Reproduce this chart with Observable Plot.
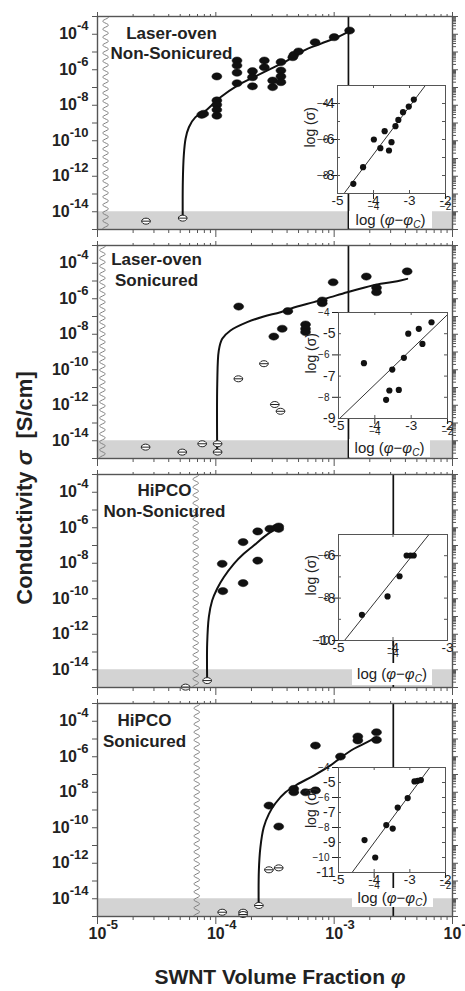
<!DOCTYPE html>
<html><head><meta charset="utf-8">
<script src="https://cdn.jsdelivr.net/npm/d3@7"></script>
<script src="https://cdn.jsdelivr.net/npm/@observablehq/plot@0.6"></script>
<style>
html,body{margin:0;padding:0;background:#fff;}
#root{position:relative;width:465px;height:991px;overflow:hidden;font-family:"Liberation Sans",Arial,sans-serif;color:#222;}
.abs{position:absolute;}
.ylab{position:absolute;left:25px;top:488px;transform:translate(-50%,-50%) rotate(-90deg);white-space:nowrap;font-weight:bold;font-size:22px;}
.xlab{position:absolute;left:280px;top:966px;height:22px;line-height:22px;transform:translateX(-50%);white-space:nowrap;font-weight:bold;font-size:21px;}
.ilab{position:absolute;background:#fff;text-align:center;font-size:15px;white-space:nowrap;}
.ilab sub{font-size:10px;font-style:italic;vertical-align:-3px;}
</style></head><body>
<div id="root"></div>
<script>
// ---------- axis / tick data ----------
const xDomain = [1e-5, 1e-2];
const yDomain = [1e-15, 1e-3];
const xTickExps = [-5, -4, -3, -2];
const yTickExps = [-4, -6, -8, -10, -12, -14];
const noiseFloor = [1e-15, 1e-14];
const panelNames = ["Laser-oven\nNon-Sonicured", "Laser-oven\nSonicured", "HiPCO\nNon-Sonicured", "HiPCO\nSonicured"];
const breakPhi = [1.17e-5, 1.1e-5, 6.76e-5, 6.9e-5];
const cutoffPhi = [1.32e-3, 1.32e-3, 3.16e-3, 3.16e-3];

// ---------- Panel 1: Laser-oven, non-sonicured ----------
const p1Filled = [[1.02e-4,4.2e-7],[7.6e-5,2.9e-9],[7.9e-5,3.3e-9],[1.02e-4,1.86e-8],[1.02e-4,1.07e-8],[1.02e-4,5.5e-9],[1.02e-4,2.6e-9],
  [1.51e-4,3.3e-6],[1.51e-4,1.74e-6],[1.51e-4,6.8e-7],[1.51e-4,1.74e-7],[2.04e-4,8.3e-7],[2.04e-4,3.8e-7],[2.04e-4,1.17e-7],
  [2.57e-4,3.3e-6],[2.57e-4,1.38e-6],[3.02e-4,2.45e-7],[3.02e-4,1.05e-7],[3.55e-4,2.69e-6],[3.55e-4,9.1e-7],[3.55e-4,4.2e-7],[3.55e-4,2.0e-7],
  [4.47e-4,5.1e-6],[4.57e-4,6.9e-6],[5.0e-4,1.07e-5],[6.9e-4,3.55e-5],[1.0e-3,6.8e-5],[1.35e-3,1.62e-4]];
const p1Open = [[2.57e-5,2.95e-15],[5.25e-5,4.37e-15]];
const p1Fit = [[5.25e-5,4.9e-15],[5.26e-5,4.57e-13],[5.36e-5,1.48e-11],[5.55e-5,1.29e-10],[5.92e-5,5.75e-10],[6.73e-5,2.14e-9],[7.91e-5,4.07e-9],
  [1.094e-4,2.82e-8],[1.52e-4,1.29e-7],[2.09e-4,3.8e-7],[2.9e-4,1.12e-6],[4.01e-4,3.31e-6],[5.53e-4,1.2e-5],[7.67e-4,2.88e-5],[1.06e-3,6.76e-5],[1.37e-3,1.62e-4]];
const p1Inset = [[-4.56,-8.46],[-4.29,-7.54],[-3.99,-6.0],[-3.81,-6.48],[-3.69,-5.54],[-3.50,-6.15],[-3.57,-6.61],[-3.39,-5.26],[-3.31,-4.91],[-3.18,-4.48],[-3.02,-4.17],[-2.88,-3.78]];
const p1InsetFit = [[-4.8,-8.95],[-2.56,-3.0]];

// ---------- Panel 2: Laser-oven, sonicured ----------
const p2Filled = [[1.56e-4,3.63e-7],[3.09e-4,7.41e-9],[3.64e-4,2.04e-8],[4.06e-4,2.0e-7],[5.73e-4,3.55e-8],[5.73e-4,2.04e-8],[5.73e-4,1.32e-8],
  [7.93e-4,7.94e-7],[7.93e-4,5.62e-7],[9.8e-4,8.5e-6],[1.87e-3,1.78e-5],[2.28e-3,4.17e-6],[2.28e-3,2.34e-6],[4.14e-3,3.47e-5]];
const p2Open = [[1.55e-4,3.09e-11],[2.55e-4,2.19e-10],[3.15e-4,1.1e-12],[3.52e-4,4.57e-13],[1.035e-4,6.76e-15],[1.035e-4,2.29e-15],
  [7.67e-5,6.76e-15],[5.2e-5,2.29e-15],[2.55e-5,4.37e-15]];
const p2Fit = [[1.027e-4,1.82e-15],[1.028e-4,1.62e-11],[1.059e-4,1.2e-9],[1.132e-4,5.5e-9],[1.33e-4,1.62e-8],[1.84e-4,4.79e-8],[2.54e-4,1.0e-7],
  [3.52e-4,1.74e-7],[4.88e-4,3.63e-7],[6.73e-4,6.46e-7],[9.31e-4,1.23e-6],[1.29e-3,2.34e-6],[1.78e-3,4.17e-6],[2.47e-3,6.92e-6],[3.41e-3,9.77e-6],[4.14e-3,1.32e-5]];
const p2Inset = [[-4.30,-6.39],[-3.52,-6.69],[-3.20,-6.14],[-3.08,-5.00],[-2.79,-4.77],[-2.69,-5.48],[-2.44,-4.46],[-3.60,-7.68],[-3.34,-7.65],[-3.69,-8.12]];
const p2InsetFit = [[-5.0,-9.05],[-2.0,-4.1]];

// ---------- Panel 3: HiPCO, non-sonicured ----------
const p3Filled = [[1.132e-4,9.3e-9],[1.70e-4,1.55e-7],[2.26e-4,6.17e-7],[2.86e-4,8.7e-7],[3.26e-4,1.0e-6],[3.40e-4,8.7e-7],[3.40e-4,1.17e-6],
  [2.26e-4,1.41e-8],[1.70e-4,7.6e-10],[1.146e-4,2.69e-10]];
const p3Open = [[8.45e-5,2.45e-15],[5.55e-5,1.05e-15]];
const p3Fit = [[8.44e-5,3.24e-15],[8.45e-5,3.02e-13],[8.73e-5,9.55e-12],[9.31e-5,7.94e-11],[1.028e-4,3.8e-10],[1.167e-4,1.62e-9],[1.42e-4,9.3e-9],
  [1.72e-4,3.39e-8],[2.09e-4,1.0e-7],[2.54e-4,2.95e-7],[2.90e-4,5.62e-7],[3.26e-4,8.7e-7]];
const p3Inset = [[-4.57,-8.79],[-4.10,-7.92],[-3.88,-6.97],[-3.75,-5.99],[-3.68,-5.99],[-3.62,-5.99]];
const p3InsetFit = [[-4.89,-10.0],[-3.34,-5.0]];

// ---------- Panel 4: HiPCO, sonicured ----------
const p4Filled = [[2.81e-4,1.78e-9],[3.40e-4,1.17e-10],[4.56e-4,1.55e-8],[4.56e-4,1.0e-8],[5.73e-4,1.0e-8],[6.95e-4,1.26e-8],[6.95e-4,4.27e-6],
  [1.13e-3,1.02e-6],[1.585e-3,1.38e-5],[1.585e-3,8.3e-6],[2.28e-3,2.4e-5],[2.28e-3,8.9e-6]];
const p4Open = [[2.81e-4,4.27e-13],[3.40e-4,5.5e-13],[2.31e-4,4.17e-15],[1.132e-4,1.74e-15],[1.70e-4,1.74e-15],[1.70e-4,1.29e-15]];
const p4Fit = [[2.30e-4,5.62e-15],[2.31e-4,3.89e-13],[2.38e-4,7.94e-12],[2.54e-4,1.07e-10],[2.81e-4,6.03e-10],[3.19e-4,2.4e-9],[3.88e-4,1.0e-8],
  [4.88e-4,2.75e-8],[6.73e-4,8.7e-8],[9.31e-4,3.24e-7],[1.13e-3,8.7e-7],[1.47e-3,2.82e-6],[1.90e-3,6.6e-6],[2.28e-3,1.26e-5]];
const p4Inset = [[-4.27,-8.84],[-3.97,-10.0],[-3.66,-7.84],[-3.48,-8.07],[-3.34,-6.67],[-3.06,-6.04],[-2.87,-4.93],[-2.78,-4.89],[-2.69,-4.84]];
const p4InsetFit = [[-4.62,-11.0],[-2.44,-4.0]];

// ---------- inset axes ----------
const insetXDomains = [[-5,-2],[-5,-2],[-5,-3],[-5,-2]];
const insetYDomains = [[-9,-3],[-9,-4],[-10,-5],[-11,-4]];
const insetXLabels = [[-5,-4,-3,-2],[-5,-4,-3,-2],[-5,-4,-3],[-5,-4,-3,-2]];
const insetYLabels = [[-4,-6,-8],[-5,-7,-9],[-6,-8,-10],[-5,-7,-9,-11]];

// ---------- layout (pixels) ----------
const L = {
  left: 97, right: 13, plotH: 213,
  panelTop: [16, 245, 474, 703],
  label: [[171, 26], [156, 23.5], [164, 25.5], [144, 26.5]],
  inset: [[337,445,85,193],[338,447,312,418],[338,447,534,640],[338,445,767,872]],
  insetLab: [[349,432,211,17],[349,430,439,18],[352,432,663,22],[352,433,888,19]]
};

const panels = [
  {filled: p1Filled, open: p1Open, fit: p1Fit, inset: p1Inset, insetFit: p1InsetFit},
  {filled: p2Filled, open: p2Open, fit: p2Fit, inset: p2Inset, insetFit: p2InsetFit},
  {filled: p3Filled, open: p3Open, fit: p3Fit, inset: p3Inset, insetFit: p3InsetFit},
  {filled: p4Filled, open: p4Open, fit: p4Fit, inset: p4Inset, insetFit: p4InsetFit}
];

function ellipseSymbol(aspect, bar) {
  return {draw(ctx, size) {
    const ry = Math.sqrt(size / Math.PI), rx = ry * aspect, k = 0.5523;
    ctx.moveTo(rx, 0);
    ctx.bezierCurveTo(rx, k*ry, k*rx, ry, 0, ry);
    ctx.bezierCurveTo(-k*rx, ry, -rx, k*ry, -rx, 0);
    ctx.bezierCurveTo(-rx, -k*ry, -k*rx, -ry, 0, -ry);
    ctx.bezierCurveTo(k*rx, -ry, rx, -k*ry, rx, 0);
    ctx.closePath();
    if (bar) { ctx.moveTo(-rx, 0); ctx.lineTo(rx, 0); }
  }};
}
const fillSym = ellipseSymbol(1.38, false);
const openSym = ellipseSymbol(1.45, true);
const FONT = "'Liberation Sans', Arial, sans-serif";
const root = document.getElementById("root");

function place(el, left, top) {
  const d = document.createElement("div");
  d.className = "abs"; d.style.left = left + "px"; d.style.top = top + "px";
  d.appendChild(el); root.appendChild(d); return d;
}

function mainPanel(i) {
  const P = panels[i];
  const last = i === 3;
  const mt = 14, mb = last ? 40 : 14;
  const yDec = d3.range(-15, -2).map(e => 10 ** e);
  const yMin = d3.range(-15, -3).flatMap(e => d3.range(2, 10).map(m => m * 10 ** e));
  const xDec = d3.range(-5, -1).map(e => 10 ** e);
  const xMin = d3.range(-5, -2).flatMap(e => d3.range(2, 10).map(m => m * 10 ** e));
  const wavy = d3.range(0, 241).map(k => -15 + k * 0.05).map(ly => [breakPhi[i] * 10 ** (0.024 * Math.sin(2 * Math.PI * ly / 0.45)), 10 ** ly]);
  const band = [{x1: xDomain[0], x2: xDomain[1], y1: noiseFloor[0], y2: noiseFloor[1]}];
  const expW = e => (0.333 + 0.556 * (String(e).length - 1)) * 13;
  const groups = d3.groups(yTickExps, e => String(e).length);
  const tick = {stroke: "#555", strokeWidth: 1, label: null, tickFormat: () => ""};
  const marks = [
    Plot.rect(band, {x1: "x1", x2: "x2", y1: "y1", y2: "y2", fill: "#d3d3d3"}),
    Plot.line(wavy, {x: d => d[0], y: d => d[1], curve: "natural", stroke: "#808080", strokeWidth: 1}),
    Plot.ruleX([cutoffPhi[i]], {stroke: "#111", strokeWidth: 1.7}),
    Plot.line(P.fit, {x: d => d[0], y: d => d[1], curve: "catmull-rom", stroke: "#111", strokeWidth: 2}),
    Plot.dot(P.open, {x: d => d[0], y: d => d[1], r: 3, symbol: openSym, fill: "white", stroke: "#222", strokeWidth: 1}),
    Plot.dot(P.filled, {x: d => d[0], y: d => d[1], r: 3.6, symbol: fillSym, fill: "#111", stroke: "#111", strokeWidth: 0.5}),
    Plot.frame({stroke: "#555", strokeWidth: 1.4}),
    Plot.axisY({...tick, ticks: yDec, anchor: "left", tickSize: 5}),
    Plot.axisY({...tick, ticks: yDec, anchor: "right", tickSize: 5}),
    Plot.axisY({...tick, ticks: yMin, anchor: "right", tickSize: 3}),
    Plot.axisX({...tick, ticks: xDec, anchor: "top", tickSize: 5}),
    Plot.axisX({...tick, ticks: xMin, anchor: "top", tickSize: 3}),
    Plot.axisX({...tick, ticks: xDec, anchor: "bottom", tickSize: 8}),
    Plot.axisX({...tick, ticks: xMin, anchor: "bottom", tickSize: 4}),
    Plot.text([panelNames[i]], {frameAnchor: "top-left", dx: L.label[i][0] - L.left, dy: L.label[i][1], text: d => d,
      textAnchor: "middle", lineAnchor: "middle", lineHeight: 1.2, fontSize: 17, fontWeight: "bold", fill: "#222"})
  ];
  for (const [, g] of groups) {
    const w = expW(g[0]);
    marks.push(
      Plot.text(g, {y: e => 10 ** e, frameAnchor: "left", text: () => "10", textAnchor: "end", dx: -(9 + w), fontSize: 16, fontWeight: "bold", fill: "#222"}),
      Plot.text(g, {y: e => 10 ** e, frameAnchor: "left", text: e => String(e), textAnchor: "end", dx: -9, dy: -8, fontSize: 13, fontWeight: "bold", fill: "#222"})
    );
  }
  if (last) {
    marks.push(
      Plot.text(xTickExps, {x: e => 10 ** e, frameAnchor: "bottom", text: () => "10", textAnchor: "middle", dy: 22, fontSize: 16, fontWeight: "bold", fill: "#222"}),
      Plot.text(xTickExps, {x: e => 10 ** e, frameAnchor: "bottom", text: e => String(e), textAnchor: "start", dx: 9, dy: 12, fontSize: 13, fontWeight: "bold", fill: "#222"})
    );
  }
  const svg = Plot.plot({
    width: 465, height: L.plotH + mt + mb,
    marginLeft: L.left, marginRight: L.right, marginTop: mt, marginBottom: mb,
    x: {type: "log", domain: xDomain},
    y: {type: "log", domain: yDomain},
    style: {background: "transparent", overflow: "visible", fontFamily: FONT},
    marks
  });
  place(svg, 0, L.panelTop[i] - mt);
}

function insetPanel(i) {
  const P = panels[i];
  const [x0, x1, y0, y1] = L.inset[i];
  const w = x1 - x0, h = y1 - y0;
  const ml = 40, mr = 4, mt = 4, mb = 24;
  const xd = insetXDomains[i], yd = insetYDomains[i];
  const xInt = d3.range(xd[0], xd[1] + 0.5), yInt = d3.range(yd[0], yd[1] + 0.5);
  const tk = {stroke: "#555", strokeWidth: 1};
  const svg = Plot.plot({
    width: w + ml + mr, height: h + mt + mb,
    marginLeft: ml, marginRight: mr, marginTop: mt, marginBottom: mb,
    x: {domain: xd}, y: {domain: yd},
    style: {background: "transparent", overflow: "visible", fontFamily: FONT},
    marks: [
      Plot.frame({fill: "white"}),
      Plot.line(P.insetFit, {x: d => d[0], y: d => d[1], stroke: "#333", strokeWidth: 1, clip: true}),
      Plot.dot(P.inset, {x: d => d[0], y: d => d[1], r: 3.1, fill: "#111"}),
      Plot.frame({stroke: "#555", strokeWidth: 1}),
      Plot.tickY(yInt, {y: d => d, insetRight: w - 3, ...tk}),
      Plot.tickY(yInt, {y: d => d, insetLeft: w - 3, ...tk}),
      Plot.tickX(xInt, {x: d => d, insetBottom: h - 3, ...tk}),
      Plot.tickX(xInt, {x: d => d, insetTop: h - 3, ...tk}),
      Plot.text(insetYLabels[i], {y: d => d, frameAnchor: "left", dx: -3, textAnchor: "end", text: d => String(d), fontSize: 14, fill: "#222"}),
      Plot.text(insetXLabels[i], {x: d => d, frameAnchor: "bottom", dy: 11, text: d => String(d), fontSize: 13.5, fill: "#222"}),
      Plot.text(["log (σ)"], {frameAnchor: "left", dx: -27, dy: 8, rotate: -90, text: d => d, fontSize: 14, fill: "#222"})
    ]
  });
  const [lx0, lx1, ly, lh] = L.insetLab[i];
  const lab = document.createElement("div");
  lab.className = "ilab";
  lab.style.left = lx0 + "px"; lab.style.width = (lx1 - lx0) + "px";
  lab.style.top = ly + "px"; lab.style.height = lh + "px"; lab.style.lineHeight = lh + "px";
  lab.innerHTML = "log (<i>φ</i>−<i>φ</i><sub>C</sub>)";
  root.appendChild(lab);
  place(svg, x0 - ml, y0 - mt);
}

for (let i = 0; i < 4; i++) mainPanel(i);
for (let i = 0; i < 4; i++) insetPanel(i);

const yl = document.createElement("div");
yl.className = "ylab";
yl.innerHTML = "Conductivity <i>σ</i>&nbsp;&nbsp;[S/cm]";
root.appendChild(yl);
const xl = document.createElement("div");
xl.className = "xlab";
xl.innerHTML = "SWNT Volume Fraction <i>φ</i>";
root.appendChild(xl);
</script>
</body></html>
